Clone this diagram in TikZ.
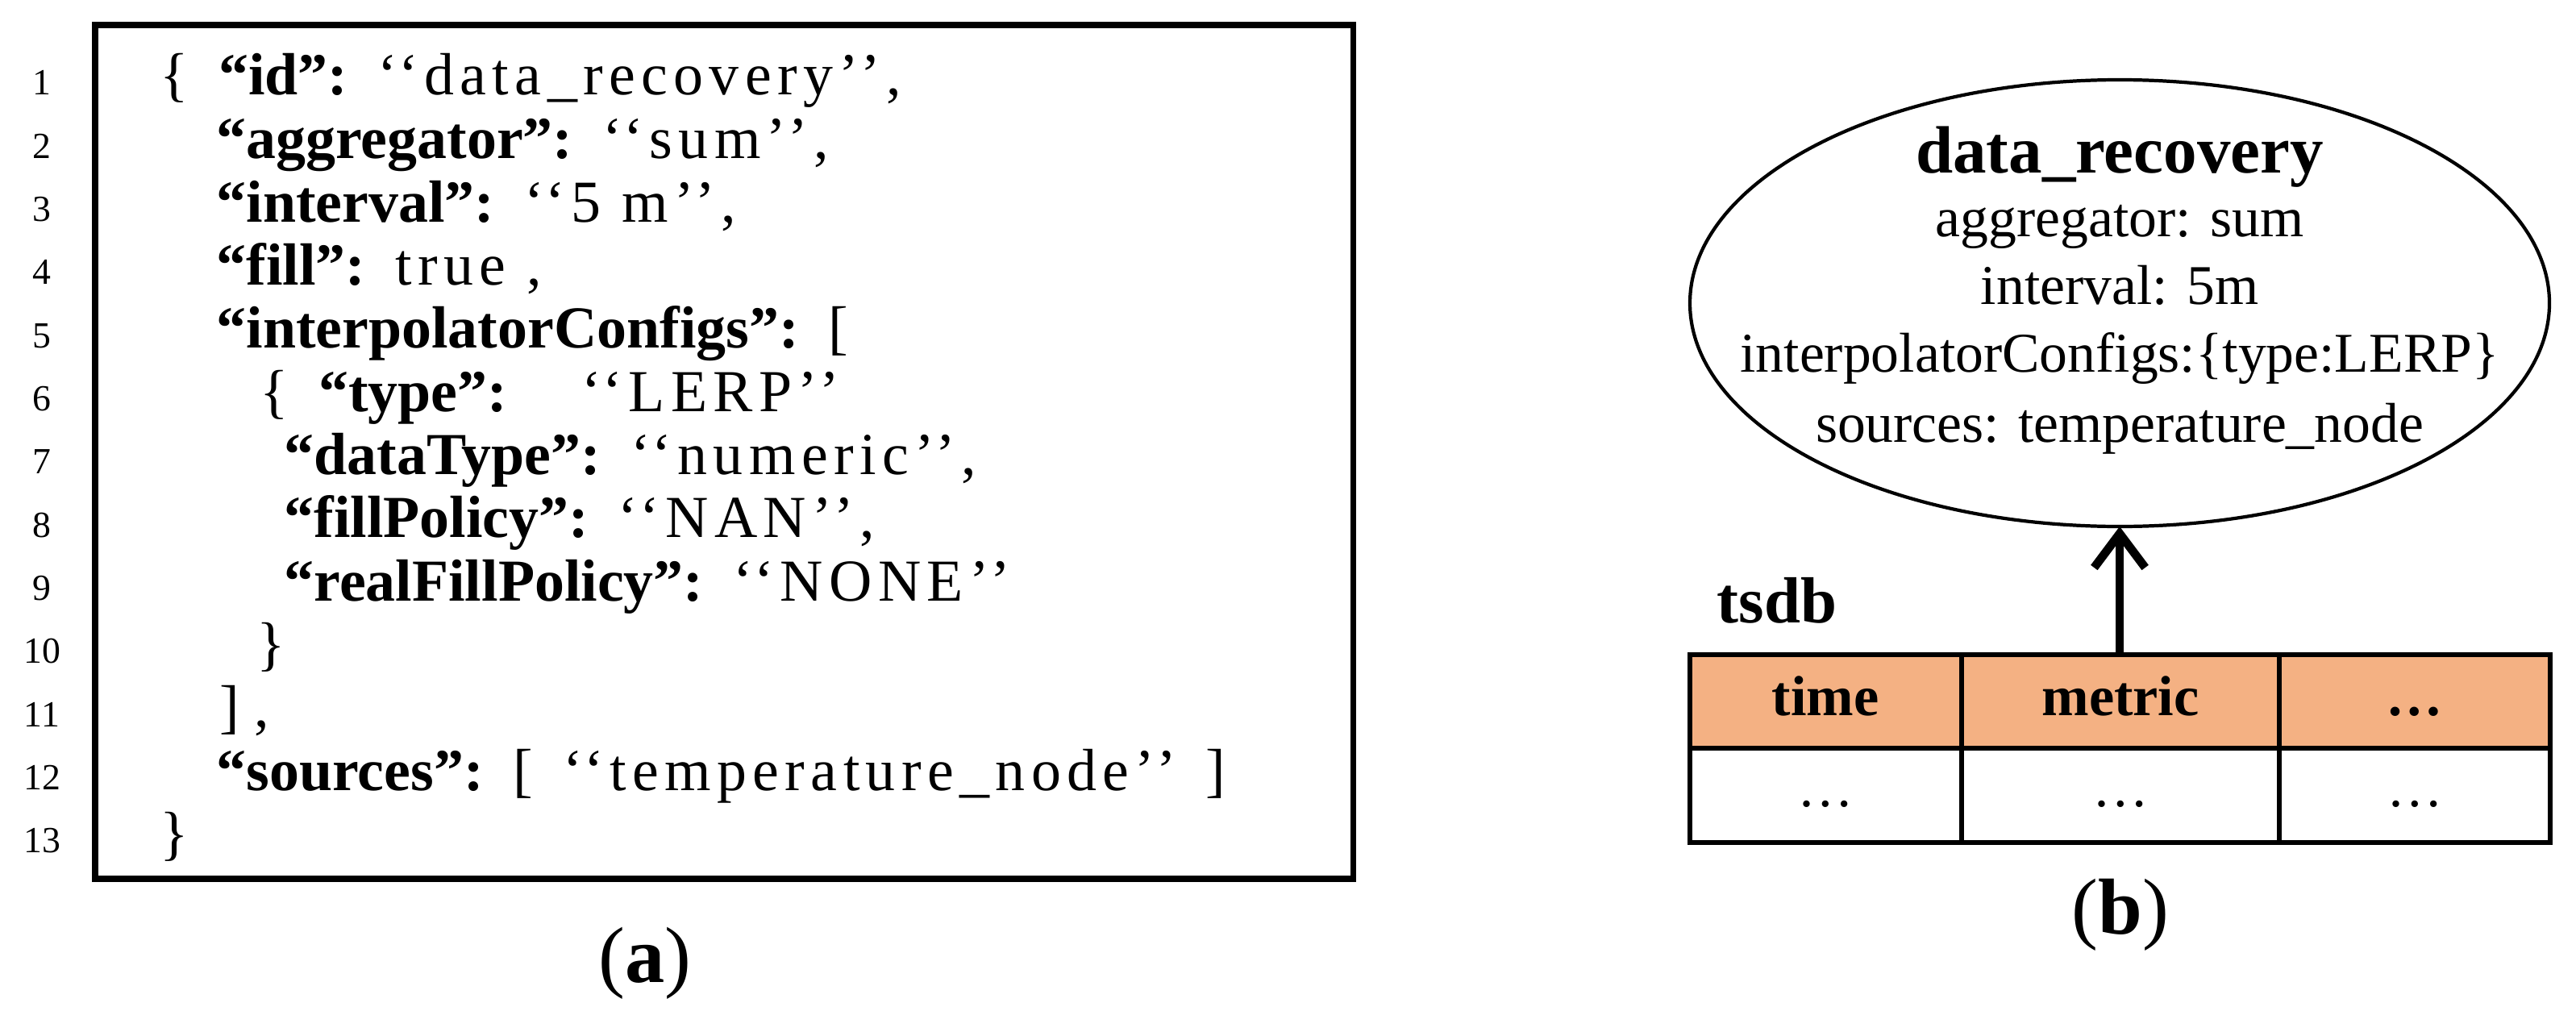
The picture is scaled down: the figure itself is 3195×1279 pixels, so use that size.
\documentclass[tikz,border=0pt]{standalone}
\usepackage{fontspec}
\usetikzlibrary{arrows.meta}
\setmainfont{Liberation Serif}
\newfontfamily\spc{Liberation Serif}[LetterSpace=10]
\begin{document}
\begin{tikzpicture}[x=0.01cm,y=-0.01cm,
  code/.style={anchor=base west,inner sep=0pt,font=\fontsize{21}{23}\selectfont},
  num/.style={anchor=base,inner sep=0pt,font=\fontsize{13}{15}\selectfont},
  etxt/.style={anchor=base,inner sep=0pt,font=\fontsize{19.8}{22}\selectfont},
  hdr/.style={anchor=base,inner sep=0pt,font=\fontsize{20}{24}\selectfont\bfseries},
  captxt/.style={anchor=base,inner sep=0pt,font=\fontsize{28}{32}\selectfont}]
\newcommand{\ql}{\textquoteleft\textquoteleft}
\newcommand{\qr}{\textquoteright\textquoteright}
\useasboundingbox (0,0) rectangle (3195,1279);
\draw[line width=2pt] (118,31) rectangle (1678,1090);
\foreach \k in {1,...,13}{ \node[num] (n\k) at (52,{118+78.3*(\k-1)}) {\k}; }
\node[code] (l1) at (198,118) {\{\ \ \textbf{“id”:}\ \ {\spc\ql data\_recovery\qr,}};
\node[code] (l2) at (268,196) {\textbf{“aggregator”:}\ \ {\spc\ql sum\qr,}};
\node[code] (l3) at (268,275) {\textbf{“interval”:}\ \ {\spc\ql 5 m\qr,}};
\node[code] (l4) at (268,353) {\textbf{“fill”:}\ \ {\spc true ,}};
\node[code] (l5) at (268,431) {\textbf{“interpolatorConfigs”:}\ \ [};
\node[code] (l6) at (322,510) {\{\ \ \textbf{“type”:}\quad\ {\spc\ql LERP\qr}};
\node[code] (l7) at (352,588) {\textbf{“dataType”:}\ \ {\spc\ql numeric\qr,}};
\node[code] (l8) at (352,666) {\textbf{“fillPolicy”:}\ \ {\spc\ql NAN\qr,}};
\node[code] (l9) at (352,745) {\textbf{“realFillPolicy”:}\ \ {\spc\ql NONE\qr}};
\node[code] (l10) at (318,823) {\}};
\node[code] (l11) at (272,901) {] ,};
\node[code] (l12) at (268,980) {\textbf{“sources”:}\ \ [\ \ {\spc\ql temperature\_node\qr}\ \ ]};
\node[code] (l13) at (198,1058) {\}};
\node[captxt] (ca) at (800,1218) {(\textbf{a})};
% right
\draw[line width=1.2pt] (2629,376) ellipse [x radius=533, y radius=277];
\coordinate (ellb) at (2629,653);
\node[anchor=base,inner sep=0pt,font=\fontsize{23.6}{28}\selectfont\bfseries] (t) at (2629,215) {data\_recovery};
\node[etxt] (e1) at (2629,293) {aggregator: sum};
\node[etxt] (e2) at (2629,377) {interval: 5m};
\node[etxt] (e3) at (2629,461) {interpolatorConfigs:\{type:LERP\}};
\node[etxt] (e4) at (2629,548) {sources: temperature\_node};
\node[anchor=base,inner sep=0pt,font=\fontsize{23}{28}\selectfont\bfseries] (ts) at (2204,772) {tsdb};
\fill[fill={rgb,255:red,244;green,177;blue,131}] (2096,812) rectangle (3163,928);
\draw[line width=1.5pt] (2096,812) rectangle (3163,1045);
\draw[line width=1.5pt] (2096,928) -- (3163,928) (2433,812) -- (2433,1045) (2827,812) -- (2827,1045);
\node[hdr] (h1) at (2264,887) {time};
\node[hdr] (h2) at (2630,887) {metric};
\node[hdr] (h3) at (2995,887) {…};
\node[etxt] (c1) at (2264,1000) {…};
\node[etxt] (c2) at (2630,1000) {…};
\node[etxt] (c3) at (2995,1000) {…};
\coordinate (tabtop) at (2629,812);
\draw[line width=3pt,-{Straight Barb[length=12pt,width=18pt]}] (tabtop) -- (ellb);
\node[captxt] (cb) at (2630,1158) {(\textbf{b})};
\end{tikzpicture}
\end{document}
